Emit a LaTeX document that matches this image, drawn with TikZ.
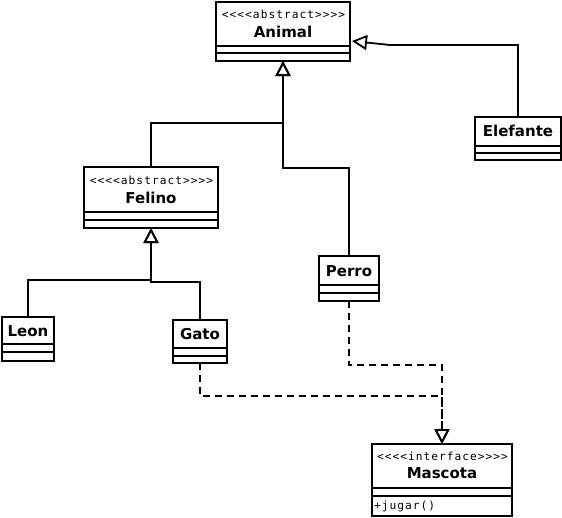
\documentclass[tikz,border=0pt]{standalone}
\usepackage{fontspec}
\setmainfont{DejaVu Sans}
\newfontfamily\stereofont[LetterSpace=9]{DejaVu Sans Mono}
\usetikzlibrary{arrows.meta,calc}
\tikzset{
  cls/.style={draw, line width=1.8pt, inner sep=0pt, outer sep=0pt, anchor=north west},
  sep/.style={line width=1.8pt},
  nm/.style={font=\fontsize{15}{18}\selectfont\bfseries, inner sep=0pt, anchor=base},
  st/.style={font=\fontsize{11.2}{13}\stereofont, inner sep=0pt, anchor=base},
  inh/.style={line width=1.8pt, -{Triangle[open, length=15pt, width=15pt]}},
  real/.style={inh, dash pattern=on 7pt off 5pt},
}
\begin{document}
\begin{tikzpicture}[x=1pt, y=-1pt]
\fill[white] (0,0) rectangle (562,517);
\useasboundingbox (0,0) rectangle (562,517);

% Animal
\node[cls, minimum width=134pt, minimum height=59pt] (animal) at (216,2) {};
\draw[sep] (216,46) -- (350,46);
\draw[sep] (216,53) -- (350,53);
\node[st] (animalst) at (283.5,18) {<<<<abstract>>>>};
\node[nm] (animalnm) at (283,37) {Animal};

% Elefante
\node[cls, minimum width=86pt, minimum height=43pt] (elefante) at (475,117) {};
\draw[sep] (475,146) -- (561,146);
\draw[sep] (475,153) -- (561,153);
\node[nm] (elefantenm) at (518,136) {Elefante};

% Felino
\node[cls, minimum width=134pt, minimum height=61pt] (felino) at (84,167) {};
\draw[sep] (84,212) -- (218,212);
\draw[sep] (84,220) -- (218,220);
\node[st] (felinost) at (151.5,184) {<<<<abstract>>>>};
\node[nm] (felinonm) at (151,203) {Felino};

% Perro
\node[cls, minimum width=60pt, minimum height=45pt] (perro) at (319,256) {};
\draw[sep] (319,285) -- (379,285);
\draw[sep] (319,293) -- (379,293);
\node[nm] (perronm) at (349,276) {Perro};

% Leon
\node[cls, minimum width=52pt, minimum height=44pt] (leon) at (2,317) {};
\draw[sep] (2,344) -- (54,344);
\draw[sep] (2,352) -- (54,352);
\node[nm] (leonnm) at (28,336) {Leon};

% Gato
\node[cls, minimum width=54pt, minimum height=43pt] (gato) at (173,320) {};
\draw[sep] (173,348) -- (227,348);
\draw[sep] (173,356) -- (227,356);
\node[nm] (gatonm) at (200,339) {Gato};

% Mascota
\node[cls, minimum width=140pt, minimum height=72pt] (mascota) at (372,444) {};
\draw[sep] (372,488) -- (512,488);
\draw[sep] (372,496) -- (512,496);
\node[st] (mascotast) at (442.5,460) {<<<<interface>>>>};
\node[nm] (mascotanm) at (442,478) {Mascota};
\node[st, anchor=base west] (jugar) at (374,509) {+jugar()};

% generalizations
\draw[inh] (felino.north) -- ++(0,-44) -| (animal.south);
\draw[inh] (perro.north) -- ++(0,-88) -| (animal.south);
\coordinate (eltip) at ($(animal.south east)+(2,-20)$);
\draw[inh] (elefante.north) -- ++(0,-72) -- ++(-128,0) -- (eltip);
\draw[inh] (leon.north) -- ++(0,-37) -| (felino.south);
\draw[inh] (gato.north) -- ++(0,-38) -| (felino.south);

% realizations
\draw[real] (perro.south) -- ++(0,64) -| (mascota.north);
\draw[real] (gato.south) -- ++(0,33) -| (mascota.north);
\end{tikzpicture}
\end{document}
